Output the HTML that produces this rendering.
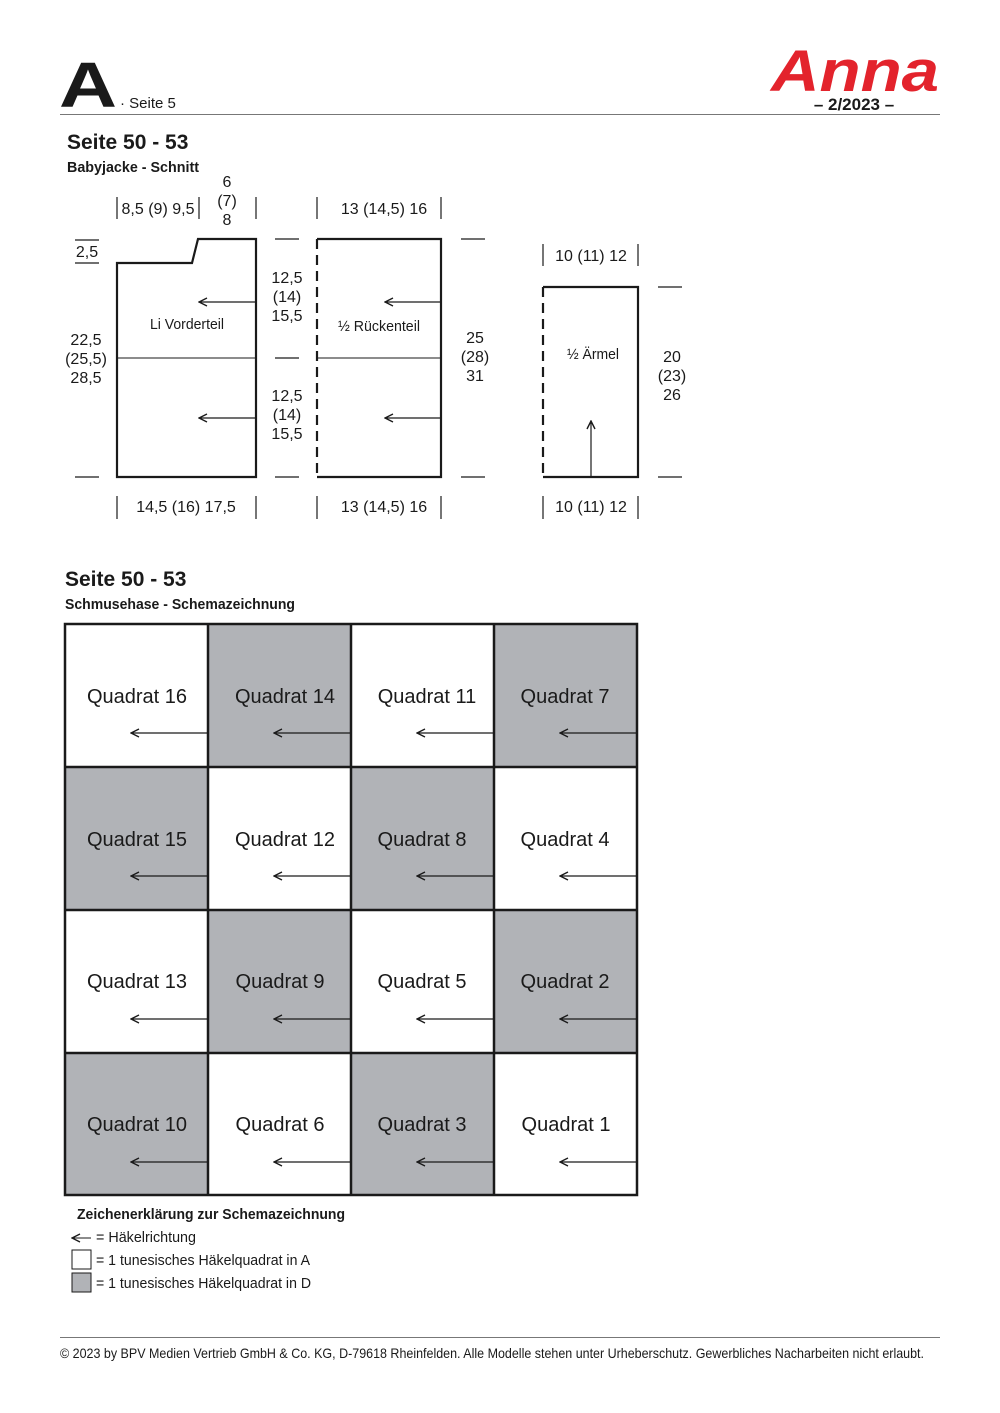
<!DOCTYPE html>
<html><head><meta charset="utf-8"><style>
html,body{margin:0;padding:0;background:#fff}
svg{display:block}
text{font-family:"Liberation Sans",sans-serif;fill:#1a1a1a}
</style></head><body>
<svg width="1000" height="1413" viewBox="0 0 1000 1413" xmlns="http://www.w3.org/2000/svg">
<defs>
<marker id="ah" markerWidth="10" markerHeight="10" refX="9" refY="5" orient="auto" markerUnits="userSpaceOnUse">
<path d="M1,1 L9,5 L1,9" fill="none" stroke="#1a1a1a" stroke-width="1.4"/>
</marker>
</defs>
<!-- header -->
<text x="59" y="107" font-size="64" font-weight="bold" fill="#111" textLength="58" lengthAdjust="spacingAndGlyphs">A</text>
<text x="120" y="108" font-size="15">· Seite 5</text>
<text x="855" y="91" font-size="58" font-weight="bold" font-style="italic" text-anchor="middle" style="fill:#e3232c" textLength="168" lengthAdjust="spacingAndGlyphs">Anna</text>
<text x="854" y="110" font-size="17" font-weight="bold" text-anchor="middle">– 2/2023 –</text>
<line x1="60" y1="114.5" x2="940" y2="114.5" stroke="#777" stroke-width="1"/>

<text x="67" y="149" font-size="21" font-weight="bold">Seite 50 - 53</text>
<text x="67" y="172" font-size="15" font-weight="bold" textLength="132" lengthAdjust="spacingAndGlyphs">Babyjacke - Schnitt</text>

<g stroke="#1a1a1a" fill="none">
<path d="M117,477 L117,263 L192,263 L198,239 L256,239 L256,477 Z" stroke-width="2.2"/>
<line x1="117" y1="358" x2="256" y2="358" stroke-width="1"/>
<line x1="256" y1="302" x2="199" y2="302" stroke-width="1.2" marker-end="url(#ah)"/>
<line x1="256" y1="418" x2="199" y2="418" stroke-width="1.2" marker-end="url(#ah)"/>
<path d="M317,239 L441,239 L441,477 L317,477" stroke-width="2.2"/>
<line x1="317" y1="239" x2="317" y2="477" stroke-width="2.2" stroke-dasharray="10,6"/>
<line x1="317" y1="358" x2="441" y2="358" stroke-width="1"/>
<line x1="441" y1="302" x2="385" y2="302" stroke-width="1.2" marker-end="url(#ah)"/>
<line x1="441" y1="418" x2="385" y2="418" stroke-width="1.2" marker-end="url(#ah)"/>
<path d="M543,287 L638,287 L638,477 L543,477" stroke-width="2.2"/>
<line x1="543" y1="287" x2="543" y2="477" stroke-width="2.2" stroke-dasharray="10,6"/>
<line x1="591" y1="477" x2="591" y2="421" stroke-width="1.2" marker-end="url(#ah)"/>
<g stroke-width="1.2">
<line x1="117" y1="197" x2="117" y2="219"/><line x1="199" y1="197" x2="199" y2="219"/><line x1="256" y1="197" x2="256" y2="219"/>
<line x1="317" y1="197" x2="317" y2="219"/><line x1="441" y1="197" x2="441" y2="219"/>
<line x1="543" y1="244" x2="543" y2="266"/><line x1="638" y1="244" x2="638" y2="266"/>
<line x1="117" y1="496" x2="117" y2="519"/><line x1="256" y1="496" x2="256" y2="519"/>
<line x1="317" y1="496" x2="317" y2="519"/><line x1="441" y1="496" x2="441" y2="519"/>
<line x1="543" y1="496" x2="543" y2="519"/><line x1="638" y1="496" x2="638" y2="519"/>
<line x1="75" y1="240" x2="99" y2="240"/><line x1="75" y1="263" x2="99" y2="263"/><line x1="75" y1="477" x2="99" y2="477"/>
<line x1="275" y1="239" x2="299" y2="239"/><line x1="275" y1="358" x2="299" y2="358"/><line x1="275" y1="477" x2="299" y2="477"/>
<line x1="461" y1="239" x2="485" y2="239"/><line x1="461" y1="477" x2="485" y2="477"/>
<line x1="658" y1="287" x2="682" y2="287"/><line x1="658" y1="477" x2="682" y2="477"/>
</g>
</g>
<g font-size="16" text-anchor="middle">
<text x="158" y="214">8,5 (9) 9,5</text>
<text x="227" y="187">6</text><text x="227" y="206">(7)</text><text x="227" y="225">8</text>
<text x="384" y="214">13 (14,5) 16</text>
<text x="591" y="261">10 (11) 12</text>
<text x="87" y="257">2,5</text>
<text x="86" y="345">22,5</text><text x="86" y="364">(25,5)</text><text x="86" y="383">28,5</text>
<text x="287" y="283">12,5</text><text x="287" y="302">(14)</text><text x="287" y="321">15,5</text>
<text x="287" y="401">12,5</text><text x="287" y="420">(14)</text><text x="287" y="439">15,5</text>
<text x="475" y="343">25</text><text x="475" y="362">(28)</text><text x="475" y="381">31</text>
<text x="672" y="362">20</text><text x="672" y="381">(23)</text><text x="672" y="400">26</text>
<text x="186" y="512">14,5 (16) 17,5</text>
<text x="384" y="512">13 (14,5) 16</text>
<text x="591" y="512">10 (11) 12</text>
</g>
<g font-size="15" text-anchor="middle">
<text x="187" y="329" textLength="74" lengthAdjust="spacingAndGlyphs">Li Vorderteil</text>
<text x="379" y="331" textLength="82" lengthAdjust="spacingAndGlyphs">½ Rückenteil</text>
<text x="593" y="359" textLength="52" lengthAdjust="spacingAndGlyphs">½ Ärmel</text>
</g>

<text x="65" y="586" font-size="21" font-weight="bold">Seite 50 - 53</text>
<text x="65" y="609" font-size="15" font-weight="bold" textLength="230" lengthAdjust="spacingAndGlyphs">Schmusehase - Schemazeichnung</text>

<g>
<rect x="208" y="624" width="143" height="143" fill="#b1b3b7"/>
<rect x="494" y="624" width="143" height="143" fill="#b1b3b7"/>
<rect x="65" y="767" width="143" height="143" fill="#b1b3b7"/>
<rect x="351" y="767" width="143" height="143" fill="#b1b3b7"/>
<rect x="208" y="910" width="143" height="143" fill="#b1b3b7"/>
<rect x="494" y="910" width="143" height="143" fill="#b1b3b7"/>
<rect x="65" y="1053" width="143" height="142" fill="#b1b3b7"/>
<rect x="351" y="1053" width="143" height="142" fill="#b1b3b7"/>
<g stroke="#1a1a1a" stroke-width="2.5" fill="none">
<rect x="65" y="624" width="572" height="571"/>
<line x1="208" y1="624" x2="208" y2="1195"/><line x1="351" y1="624" x2="351" y2="1195"/><line x1="494" y1="624" x2="494" y2="1195"/>
<line x1="65" y1="767" x2="637" y2="767"/><line x1="65" y1="910" x2="637" y2="910"/><line x1="65" y1="1053" x2="637" y2="1053"/>
</g>
<g stroke="#1a1a1a" stroke-width="1.3">
<line x1="208" y1="733" x2="131" y2="733" marker-end="url(#ah)"/><line x1="351" y1="733" x2="274" y2="733" marker-end="url(#ah)"/><line x1="494" y1="733" x2="417" y2="733" marker-end="url(#ah)"/><line x1="637" y1="733" x2="560" y2="733" marker-end="url(#ah)"/>
<line x1="208" y1="876" x2="131" y2="876" marker-end="url(#ah)"/><line x1="351" y1="876" x2="274" y2="876" marker-end="url(#ah)"/><line x1="494" y1="876" x2="417" y2="876" marker-end="url(#ah)"/><line x1="637" y1="876" x2="560" y2="876" marker-end="url(#ah)"/>
<line x1="208" y1="1019" x2="131" y2="1019" marker-end="url(#ah)"/><line x1="351" y1="1019" x2="274" y2="1019" marker-end="url(#ah)"/><line x1="494" y1="1019" x2="417" y2="1019" marker-end="url(#ah)"/><line x1="637" y1="1019" x2="560" y2="1019" marker-end="url(#ah)"/>
<line x1="208" y1="1162" x2="131" y2="1162" marker-end="url(#ah)"/><line x1="351" y1="1162" x2="274" y2="1162" marker-end="url(#ah)"/><line x1="494" y1="1162" x2="417" y2="1162" marker-end="url(#ah)"/><line x1="637" y1="1162" x2="560" y2="1162" marker-end="url(#ah)"/>
</g>
<g font-size="20" text-anchor="middle">
<text x="137" y="703">Quadrat 16</text><text x="285" y="703">Quadrat 14</text><text x="427" y="703">Quadrat 11</text><text x="565" y="703">Quadrat 7</text>
<text x="137" y="846">Quadrat 15</text><text x="285" y="846">Quadrat 12</text><text x="422" y="846">Quadrat 8</text><text x="565" y="846">Quadrat 4</text>
<text x="137" y="988">Quadrat 13</text><text x="280" y="988">Quadrat 9</text><text x="422" y="988">Quadrat 5</text><text x="565" y="988">Quadrat 2</text>
<text x="137" y="1131">Quadrat 10</text><text x="280" y="1131">Quadrat 6</text><text x="422" y="1131">Quadrat 3</text><text x="566" y="1131">Quadrat 1</text>
</g>
</g>

<text x="77" y="1219" font-size="15" font-weight="bold" textLength="268" lengthAdjust="spacingAndGlyphs">Zeichenerklärung zur Schemazeichnung</text>
<line x1="91" y1="1238" x2="72" y2="1238" stroke="#1a1a1a" stroke-width="1" marker-end="url(#ah)"/>
<text x="96" y="1242" font-size="15" textLength="100" lengthAdjust="spacingAndGlyphs">= Häkelrichtung</text>
<rect x="72" y="1250" width="19" height="19" fill="#fff" stroke="#1a1a1a" stroke-width="1"/>
<text x="96" y="1265" font-size="15" textLength="214" lengthAdjust="spacingAndGlyphs">= 1 tunesisches Häkelquadrat in A</text>
<rect x="72" y="1273" width="19" height="19" fill="#b1b3b7" stroke="#1a1a1a" stroke-width="1"/>
<text x="96" y="1288" font-size="15" textLength="215" lengthAdjust="spacingAndGlyphs">= 1 tunesisches Häkelquadrat in D</text>

<line x1="60" y1="1337.5" x2="940" y2="1337.5" stroke="#777" stroke-width="1"/>
<text x="60" y="1358" font-size="14" textLength="864" lengthAdjust="spacingAndGlyphs">© 2023 by BPV Medien Vertrieb GmbH &amp; Co. KG, D-79618 Rheinfelden. Alle Modelle stehen unter Urheberschutz. Gewerbliches Nacharbeiten nicht erlaubt.</text>
</svg>
</body></html>
